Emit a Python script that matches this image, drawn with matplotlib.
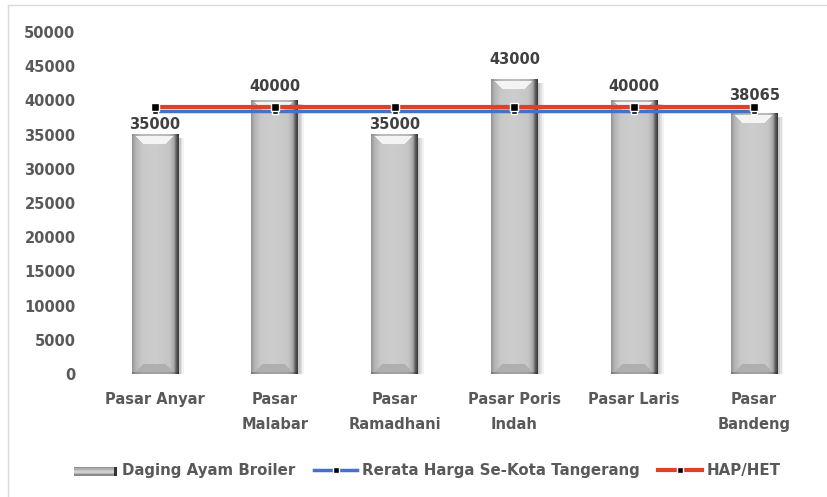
import numpy as np
import matplotlib
matplotlib.use("Agg")
import matplotlib.pyplot as plt
from matplotlib.lines import Line2D
from matplotlib.patches import Rectangle
from matplotlib.legend_handler import HandlerBase

categories = ["Pasar Anyar", "Pasar\nMalabar", "Pasar\nRamadhani", "Pasar Poris\nIndah", "Pasar Laris", "Pasar\nBandeng"]
daging = [35000, 40000, 35000, 43000, 40000, 38065]
rerata = [38511, 38511, 38511, 38511, 38511, 38511]
hap_het = [39000, 39000, 39000, 39000, 39000, 39000]
yticks = [0, 5000, 10000, 15000, 20000, 25000, 30000, 35000, 40000, 45000, 50000]
label_offsets = [2, 4.5, 2, 9, 4.5, 8]

W, H = 827, 497
FS = 10.5
plt.rcParams['font.family'] = ['DejaVu Sans']
fig = plt.figure(figsize=(W/100, H/100), dpi=100)
ax_l, ax_r, ax_t, ax_b = 95, 814, 32, 374
ax = fig.add_axes([ax_l/W, 1-ax_b/H, (ax_r-ax_l)/W, (ax_b-ax_t)/H])
ax.set_xlim(-0.5, len(categories)-0.5)
ax.set_ylim(0, 50000)
for s in ax.spines.values():
    s.set_visible(False)

px_per_x = (ax_r-ax_l)/len(categories)
px_per_y = (ax_b-ax_t)/50000.0
bw = 0.39

def bar_img(wpx, hpx, bev=10):
    t = np.linspace(0, 1, wpx)
    prof = np.interp(t, [0, 0.06, 0.2, 0.5, 0.8, 0.9, 0.95, 1.0],
                     [150, 178, 200, 205, 198, 170, 100, 60])
    img = np.tile(prof, (hpx, 1))
    for r in range(min(bev, hpx)):
        inset = r
        row = img[r]
        if r < 2:
            row[:] = prof*0.93
        else:
            row[inset+2:wpx-inset-4] = 244
        rb = hpx-1-r
        rowb = img[rb]
        if r < 2:
            rowb[:] = prof*0.8
        else:
            rowb[inset+2:wpx-inset-4] = 175
    img = np.clip(img, 0, 255)/255.0
    return np.dstack([img, img, img])

for i, v in enumerate(daging):
    wpx = int(round(bw*px_per_x))
    hpx = int(round(v*px_per_y))
    img = bar_img(wpx, hpx)
    sh_w = 6/px_per_x
    for k, a in enumerate([0.05, 0.07, 0.1]):
        ax.add_patch(Rectangle((i+bw/2, 0), sh_w*(1-k*0.3), v-500, facecolor="#000000", alpha=a, lw=0, zorder=1))
    ax.imshow(img, extent=[i-bw/2, i+bw/2, 0, v], aspect='auto', interpolation='bilinear', zorder=2)
    ax.annotate(f"{v}", (i, v), xytext=(0, label_offsets[i]), textcoords='offset points', ha='center', va='bottom',
                fontsize=FS, fontweight='bold', color='#404040', zorder=5)

x = np.arange(len(categories))
ax.plot(x, rerata, color='#4472c4', lw=2.5, marker='s', ms=5, mfc='black', mec='white', mew=1, zorder=3)
ax.plot(x, hap_het, color='#e0402a', lw=3, marker='s', ms=5.5, mfc='black', mec='white', mew=1, zorder=4)

ax.set_xticks(x)
ax.set_xticklabels(categories, fontsize=FS, fontweight='bold', color='#595959', linespacing=1.85)
ax.set_yticks(yticks)
ax.set_yticklabels([str(t) for t in yticks], fontsize=FS, fontweight='bold', color='#595959')
ax.tick_params(axis='both', length=0)
ax.tick_params(axis='x', pad=13)
ax.tick_params(axis='y', pad=14)

class GradHandler(HandlerBase):
    def create_artists(self, legend, orig, xd, yd, width, height, fontsize, trans):
        arts = []
        cols = ["#8a8a8a", "#b8b8b8", "#d0d0d0", "#c8c8c8", "#b0b0b0", "#909090"]
        n = len(cols)
        for k in range(n):
            arts.append(Rectangle((xd, yd + k*height/n), width, height/n, facecolor=cols[k], lw=0, transform=trans))
        arts.append(Rectangle((xd+width-2, yd), 2, height, facecolor="#333333", lw=0, transform=trans))
        return arts

h_bar = Rectangle((0, 0), 1, 1)
h_blue = Line2D([], [], color='#4472c4', lw=2.5, marker='s', ms=5, mfc='black', mec='white', mew=1)
h_red = Line2D([], [], color='#e0402a', lw=3, marker='s', ms=5, mfc='black', mec='white', mew=1)
leg = fig.legend([h_bar, h_blue, h_red], ["Daging Ayam Broiler", "Rerata Harga Se-Kota Tangerang", "HAP/HET"],
                 loc='center', bbox_to_anchor=(427/W, 1-470/H), ncol=3, frameon=False,
                 handler_map={Rectangle: GradHandler()}, handlelength=2.9, handleheight=0.5,
                 handletextpad=0.3, columnspacing=1.25,
                 prop={'size': 10.8, 'weight': 'bold'})
for t in leg.get_texts():
    t.set_color('#595959')

fig.add_artist(Line2D([8/W, 8/W], [0, 1-5/H], color='#d9d9d9', lw=1))
fig.add_artist(Line2D([8/W, 1], [1-5/H, 1-5/H], color='#d9d9d9', lw=1))

fig.savefig("out.png", dpi=100)
